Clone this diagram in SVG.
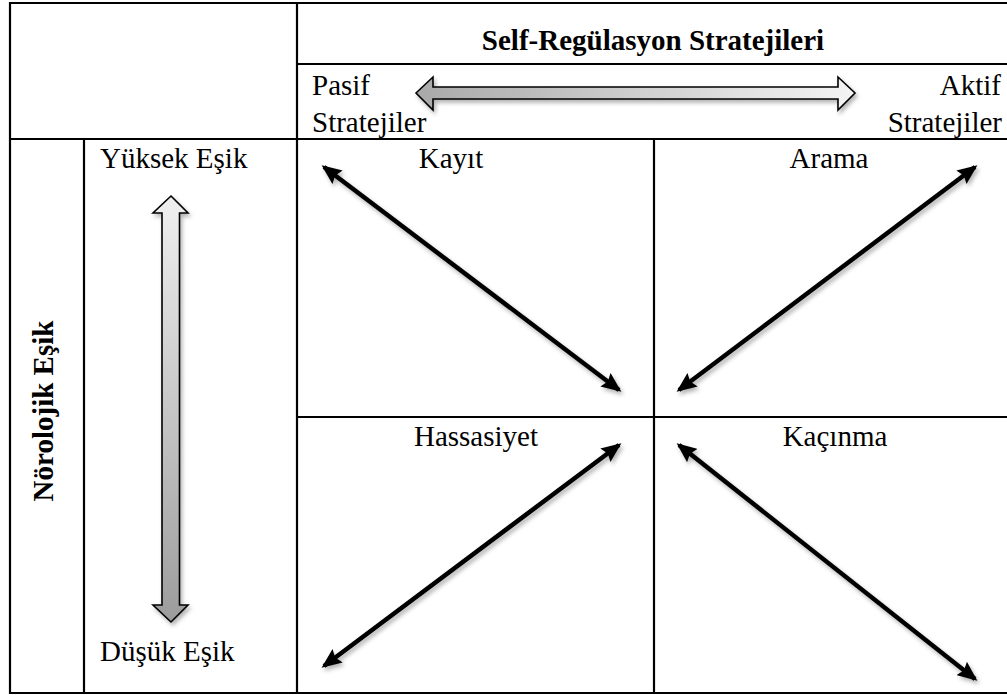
<svg xmlns="http://www.w3.org/2000/svg" width="1007" height="695" viewBox="0 0 1007 695">
<style>
.t{font-family:"Liberation Serif","Times New Roman",serif;font-size:29px;fill:#000}
.b{font-weight:bold}
.grid line{stroke:#000;stroke-width:2.2}
.arr{stroke:#000;stroke-width:4.5;fill:none;marker-start:url(#ah);marker-end:url(#ah)}
.blk{stroke:#000;stroke-width:1.6;stroke-linejoin:miter}
</style>
<defs>
<marker id="ah" viewBox="0 0 20 17" refX="17" refY="8.5" markerWidth="20" markerHeight="17" orient="auto-start-reverse" markerUnits="userSpaceOnUse">
<path d="M0,0 L20,8.5 L0,17 L3,8.5 Z" fill="#000"/>
</marker>
<filter id="sh" x="-20%" y="-20%" width="140%" height="140%">
<feDropShadow dx="2" dy="3" stdDeviation="2" flood-color="#000" flood-opacity="0.3"/>
</filter>
<linearGradient id="gh" x1="0" y1="0" x2="1" y2="0">
<stop offset="0" stop-color="#a9a9a9"/>
<stop offset="1" stop-color="#f4f4f4"/>
</linearGradient>
<linearGradient id="gv" x1="0" y1="0" x2="0" y2="1">
<stop offset="0" stop-color="#f0f0f0"/>
<stop offset="1" stop-color="#9c9c9c"/>
</linearGradient>
</defs>
<rect width="1007" height="695" fill="#fff"/>
<g id="table" class="grid">
<line x1="9" y1="3" x2="1007" y2="3"/>
<line x1="10" y1="2" x2="10" y2="694"/>
<line x1="297" y1="2" x2="297" y2="694"/>
<line x1="297" y1="64" x2="1007" y2="64"/>
<line x1="9" y1="139" x2="1007" y2="139"/>
<line x1="84" y1="139" x2="84" y2="694"/>
<line x1="654" y1="139" x2="654" y2="694"/>
<line x1="297" y1="417" x2="1007" y2="417"/>
<line x1="9" y1="693" x2="1007" y2="693"/>
</g>
<g id="header">
<text class="t b" x="653" y="50" text-anchor="middle">Self-Regülasyon Stratejileri</text>
</g>
<g id="pasif">
<text class="t" x="312" y="95">Pasif</text>
<text class="t" x="312" y="132">Stratejiler</text>
</g>
<g id="aktif">
<text class="t" x="1001" y="95" text-anchor="end">Aktif</text>
<text class="t" x="1002" y="132" text-anchor="end">Stratejiler</text>
</g>
<g id="h-arrow" filter="url(#sh)">
<path class="blk" fill="url(#gh)" d="M416,93 L433,77 L433,87 L838,87 L838,77 L855,93 L838,110 L838,99 L433,99 L433,110 Z"/>
</g>
<g id="noro">
<text class="t b" transform="translate(53,411) rotate(-90)" text-anchor="middle">Nörolojik Eşik</text>
</g>
<g id="yuksek"><text class="t" x="100" y="168">Yüksek Eşik</text></g>
<g id="dusuk"><text class="t" x="100" y="661">Düşük Eşik</text></g>
<g id="v-arrow" filter="url(#sh)">
<path class="blk" fill="url(#gv)" d="M171,196 L188,213 L179.5,213 L179.5,605 L188,605 L171,622 L153,605 L162,605 L162,213 L153,213 Z"/>
</g>
<g id="kayit"><text class="t" x="451" y="168" text-anchor="middle">Kayıt</text></g>
<g id="arama"><text class="t" x="829" y="168" text-anchor="middle">Arama</text></g>
<g id="hassasiyet"><text class="t" x="476" y="446" text-anchor="middle">Hassasiyet</text></g>
<g id="kacinma"><text class="t" x="835" y="446" text-anchor="middle">Kaçınma</text></g>
<g id="connectors" filter="url(#sh)">
<line class="arr" x1="324" y1="167" x2="619" y2="390"/>
<line class="arr" x1="975" y1="167" x2="679" y2="390"/>
<line class="arr" x1="619" y1="445" x2="324" y2="666"/>
<line class="arr" x1="679" y1="445" x2="975" y2="679"/>
</g>
</svg>
